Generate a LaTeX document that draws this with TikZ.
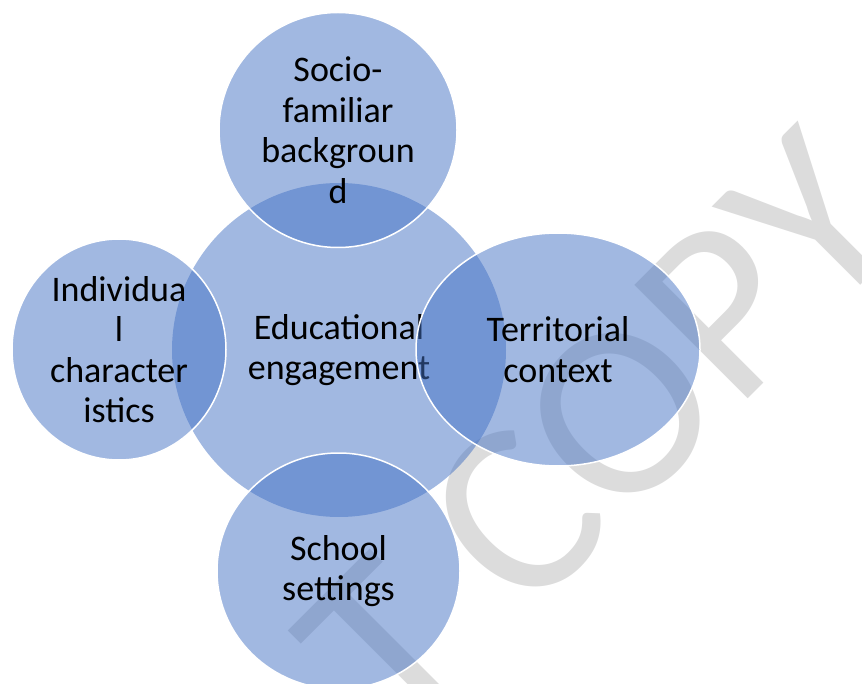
\documentclass[tikz,border=0pt]{standalone}
\usepackage{fontspec}
\setmainfont{Carlito}
\usetikzlibrary{shapes.geometric}
\definecolor{blob}{HTML}{4472C4}
\definecolor{wmgray}{HTML}{DCDCDC}

\begin{document}
\begin{tikzpicture}[x=1pt,y=-1pt,
  bubble/.style={ellipse,fill=blob,fill opacity=.5,inner sep=0pt},
  rim/.style={draw=white,line width=1.5pt},
  lbl/.style={align=center,font=\fontsize{36}{40.5}\selectfont},
  wmark/.style={text=wmgray,font=\fontsize{250}{250}\selectfont,rotate=45,inner sep=0pt}]
  \useasboundingbox (0,0) rectangle (862,684);
  \clip (0,0) rectangle (862,684);
  % watermark, under the circles
  \node[wmark] (wmCopy) at (599,434) {T COPY};
  % centre
  \node[bubble,minimum width=334pt,minimum height=334pt] (edu) at (339,350) {};
  \node[lbl] (eduText) at (edu) {Educational\\engagement};
  % the four around it
  \node[bubble,rim,minimum width=238pt,minimum height=235pt] (socio) at (338,130) {};
  \node[lbl] (socioText) at (socio) {Socio-\\familiar\\backgroun\\d};
  \node[bubble,rim,minimum width=214pt,minimum height=221pt] (indiv) at (119,349.5) {};
  \node[lbl] (indivText) at (indiv) {Individua\\l\\character\\istics};
  \node[bubble,rim,minimum width=284pt,minimum height=233pt] (terr) at (558,349.5) {};
  \node[lbl] (terrText) at (terr) {Territorial\\context};
  \node[bubble,rim,minimum width=243pt,minimum height=236pt] (school) at (338.5,571) {};
  \node[lbl] (schoolText) at (school) {School\\settings};
\end{tikzpicture}
\end{document}
